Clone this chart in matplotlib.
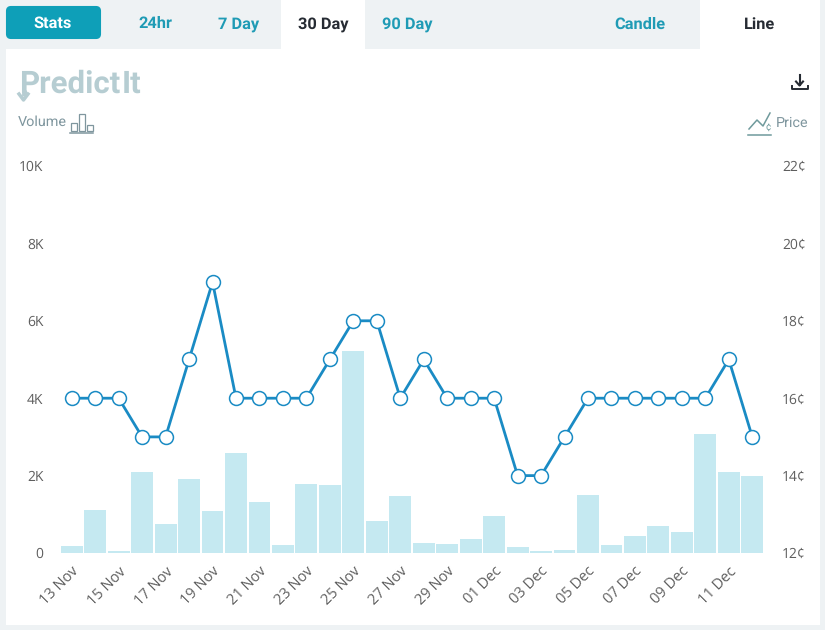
import matplotlib
matplotlib.use("Agg")
import matplotlib.pyplot as plt
from matplotlib.patches import Rectangle, FancyBboxPatch

days = ["13 Nov","14 Nov","15 Nov","16 Nov","17 Nov","18 Nov","19 Nov","20 Nov","21 Nov","22 Nov",
        "23 Nov","24 Nov","25 Nov","26 Nov","27 Nov","28 Nov","29 Nov","30 Nov","01 Dec","02 Dec",
        "03 Dec","04 Dec","05 Dec","06 Dec","07 Dec","08 Dec","09 Dec","10 Dec","11 Dec","12 Dec"]
volume = [180,1100,60,2090,760,1910,1080,2580,1330,210,1780,1750,5220,830,1470,250,220,350,960,150,
          50,90,1510,210,430,700,550,3070,2090,2000]
price = [16,16,16,15,15,17,19,16,16,16,16,17,18,18,16,17,16,16,16,14,14,15,16,16,16,16,16,16,17,15]
vol_ticks = [0,2000,4000,6000,8000,10000]
vol_labels = ["0","2K","4K","6K","8K","10K"]
price_ticks = [12,14,16,18,20,22]
price_labels = ["12¢","14¢","16¢","18¢","20¢","22¢"]

plt.rcParams["text.hinting"] = "no_hinting"
W, H = 825, 630
BG = "#eef2f4"
fig = plt.figure(figsize=(W/100, H/100), dpi=100, facecolor=BG)

ui = fig.add_axes([0, 0, 1, 1], zorder=0)
ui.set_xlim(0, W); ui.set_ylim(H, 0); ui.axis("off")
ui.add_patch(Rectangle((6, 49), 814, 576, fc="white", ec="none"))
ui.add_patch(Rectangle((281, 0), 84, 50, fc="white", ec="none"))
ui.add_patch(Rectangle((700, 0), 120, 50, fc="white", ec="none"))
ui.add_patch(FancyBboxPatch((7, 7), 93, 31, boxstyle="round,pad=0,rounding_size=4", fc="#0e9fb8", ec="#0e9fb8", lw=1.5))
TEAL = "#1f9bb5"
def tab(x, s, c=TEAL, y=24):
    ui.text(x, y, s, ha="center", va="center", family="Roboto", weight="bold", fontsize=11.8, color=c)
tab(53, "Stats", "white", 23)
tab(155, "24hr"); tab(239, "7 Day"); tab(323, "30 Day", "#262b33"); tab(407, "90 Day")
tab(640, "Candle"); tab(760, "Line", "#262b33")

# logo
LOGO = "#b6cdd2"
ui.text(19, 93, "Predict", family="Roboto", weight="bold", fontsize=22.5, color=LOGO, va="baseline", ha="left")
ui.text(122, 93, "It", family="Roboto", weight="bold", fontsize=22.5, color=LOGO, va="baseline", ha="left")
ui.plot([23.5, 23.5], [90, 96], color=LOGO, lw=3.5, solid_capstyle="butt")
ui.plot([19, 23.5, 28], [94, 100, 94], color=LOGO, lw=2.5)

GREY = "#7f969e"
ui.text(18, 122, "Volume", family="Roboto", fontsize=10.4, color=GREY, va="center", ha="left")
for x, y, w, h in [(71, 122.5, 6, 8.5), (79, 113.5, 5.5, 17.5), (87, 124.5, 5.5, 6.5)]:
    ui.add_patch(Rectangle((x, y), w, h, fc="none", ec=GREY, lw=0.9))
ui.plot([70, 93], [132.5, 132.5], color=GREY, lw=1.1)
ui.text(808, 123, "Price", family="Roboto", fontsize=10.4, color=GREY, va="center", ha="right")
ui.plot([749, 757, 763, 770], [129, 120, 126, 113], color="#6f9a9c", lw=1.1)
ui.plot([748, 771], [134.5, 134.5], color="#6f9a9c", lw=1.1)
ui.text(768, 127, "¢", family="Roboto", fontsize=7, color="#6f9a9c", ha="center", va="center")

DK = "#262b33"
ui.plot([799.5, 799.5], [75, 85], color=DK, lw=1.5)
ui.plot([796, 799.5, 803], [81.5, 85.5, 81.5], color=DK, lw=1.5)
ui.plot([791.5, 791.5, 807.5, 807.5], [86, 89.3, 89.3, 86], color=DK, lw=1.4)

ax = fig.add_axes([60/W, 1-553/H, 704/W, 387/H], zorder=1)
ax.patch.set_alpha(0)
x = list(range(len(days)))
ax.bar(x, volume, width=0.93, color="#c5e9f1", zorder=1)
ax.set_xlim(-0.5, 29.5)
ax.set_ylim(0, 10000)
ax.set_yticks(vol_ticks, vol_labels)
ax.set_xticks(x[::2], days[::2])
for s in ax.spines.values():
    s.set_visible(False)
ax.tick_params(axis="both", length=0, labelsize=10, labelcolor="#5e5e5e")
ax.tick_params(axis="y", pad=12)
ax.tick_params(axis="x", pad=8)
for lab in ax.get_xticklabels():
    lab.set(rotation=45, ha="right", rotation_mode="anchor", family="Open Sans", fontsize=10.5)
for lab in ax.get_yticklabels():
    lab.set(family="Open Sans")

ax2 = ax.twinx()
ax2.patch.set_alpha(0)
ax2.plot(x, price, color="#1a8bc4", lw=2.0, marker="o", ms=10, mfc="white", mec="#1a8bc4", mew=1.1, clip_on=False)
ax2.set_ylim(12, 22)
ax2.set_yticks(price_ticks, price_labels)
for s in ax2.spines.values():
    s.set_visible(False)
ax2.tick_params(axis="y", length=0, labelsize=10, labelcolor="#5e5e5e", pad=13)
for lab in ax2.get_yticklabels():
    lab.set(family="Open Sans")

fig.savefig("out.png", dpi=100, facecolor=BG)
